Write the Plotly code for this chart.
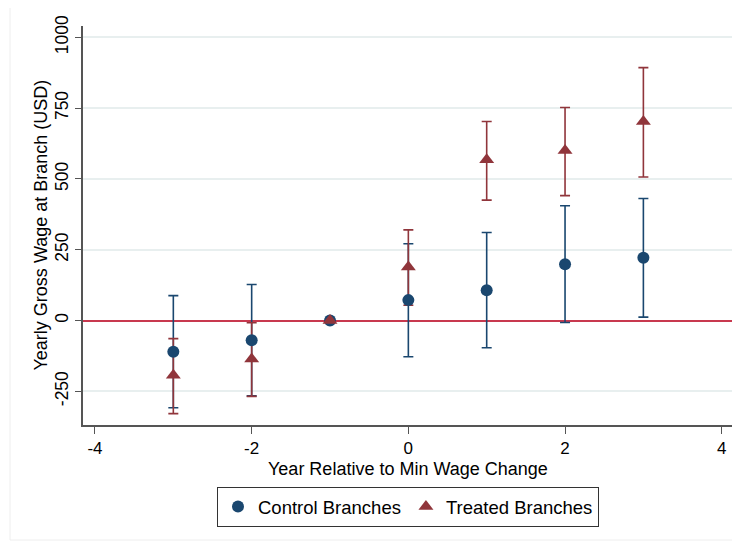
import plotly.graph_objects as go

# ---- data ----
years = [-3, -2, -1, 0, 1, 2, 3]

control_est = [-110, -70, 0, 72, 107, 199, 222]
control_lo = [-308, -266, 0, -128, -96, -7, 12]
control_hi = [88, 127, 0, 271, 311, 405, 431]

treated_est = [-193, -136, 0, 189, 568, 600, 703]
treated_lo = [-329, -268, 0, 54, 425, 441, 507]
treated_hi = [-64, -8, 0, 320, 703, 752, 893]

x_ticks = [-4, -2, 0, 2, 4]
x_tick_labels = ["-4", "-2", "0", "2", "4"]
y_ticks = [-250, 0, 250, 500, 750, 1000]
y_tick_labels = ["-250", "0", "250", "500", "750", "1000"]

NAVY = "#1a476f"
MAROON = "#90353b"
ZERO_RED = "#c8394f"
FONT = "Liberation Sans, Arial, Helvetica, sans-serif"

def err_plus(est, hi):
    return [h - e for e, h in zip(est, hi)]

def err_minus(est, lo):
    return [e - l for e, l in zip(est, lo)]

fig = go.Figure()

# confidence interval caps (drawn first, control then treated)
fig.add_trace(go.Scatter(
    x=years, y=control_est, mode="markers",
    marker=dict(size=1, color="rgba(0,0,0,0)"),
    error_y=dict(type="data", symmetric=False,
                 array=err_plus(control_est, control_hi),
                 arrayminus=err_minus(control_est, control_lo),
                 color=NAVY, thickness=1.6, width=5),
    showlegend=False, hoverinfo="skip"))
fig.add_trace(go.Scatter(
    x=years, y=treated_est, mode="markers",
    marker=dict(size=1, color="rgba(0,0,0,0)"),
    error_y=dict(type="data", symmetric=False,
                 array=err_plus(treated_est, treated_hi),
                 arrayminus=err_minus(treated_est, treated_lo),
                 color=MAROON, thickness=1.6, width=5),
    showlegend=False, hoverinfo="skip"))

# point estimates
fig.add_trace(go.Scatter(
    x=years, y=control_est, mode="markers", name="Control Branches",
    marker=dict(symbol="circle", size=12, color=NAVY, line=dict(width=0))))
fig.add_trace(go.Scatter(
    x=years, y=treated_est, mode="markers", name="Treated Branches",
    marker=dict(symbol="triangle-up", size=13, color=MAROON, line=dict(width=0))))

# page offset of the figure inside the browser window (default body margin)
OFF = 8
WIN_W, WIN_H = 740, 541
W, H = WIN_W - OFF, WIN_H - OFF
# plot-area edges in window pixels
PL, PR, PT, PB = 83, 733, 26, 425
L, R, T, B = PL - OFF, WIN_W - PR, PT - OFF, WIN_H - PB
pw, ph = PR - PL, PB - PT

def px_x(p):
    return (p - PL) / pw

def px_y(p):
    return (PB - p) / ph

fig.update_layout(
    width=W, height=H,
    margin=dict(l=L, r=R, t=T, b=B, autoexpand=False),
    paper_bgcolor="white", plot_bgcolor="white",
    font=dict(family=FONT, size=17, color="black"),
    showlegend=True,
    legend=dict(orientation="h", x=0.5, xanchor="center",
                y=px_y(487), yanchor="top",
                bordercolor="#333333", borderwidth=1, bgcolor="white",
                font=dict(size=18.5), itemwidth=30, tracegroupgap=0),
    xaxis=dict(range=[-4.153, 4.144], tickvals=x_ticks, ticktext=x_tick_labels,
               showgrid=False, zeroline=False, automargin=False,
               showline=True, linecolor="#555555", linewidth=1.5,
               ticks="outside", ticklen=7, tickwidth=1.3, tickcolor="#555555",
               tickfont=dict(size=17)),
    yaxis=dict(range=[-369, 1040], tickvals=y_ticks, ticktext=y_tick_labels,
               showgrid=True, gridcolor="#e8efef", gridwidth=1.5,
               zeroline=True, zerolinecolor=ZERO_RED, zerolinewidth=1.6,
               showline=True, linecolor="#555555", linewidth=1.5, automargin=False,
               ticks="outside", ticklen=6, tickwidth=1.3, tickcolor="#555555",
               tickangle=-90, tickfont=dict(size=17.5)),
    annotations=[
        dict(text="Year Relative to Min Wage Change", xref="paper", yref="paper",
             x=0.5, y=px_y(469), xanchor="center", yanchor="middle",
             showarrow=False, font=dict(size=18)),
        dict(text="Yearly Gross Wage at Branch (USD)", xref="paper", yref="paper",
             x=px_x(40), y=0.5, xanchor="center", yanchor="middle",
             textangle=-90, showarrow=False, font=dict(size=18)),
    ],
    shapes=[
        dict(type="rect", xref="paper", yref="paper",
             x0=px_x(10), x1=px_x(738), y0=px_y(540), y1=px_y(6),
             line=dict(color="#eeeeee", width=1), layer="below"),
    ],
)

fig.write_html("out.html")
